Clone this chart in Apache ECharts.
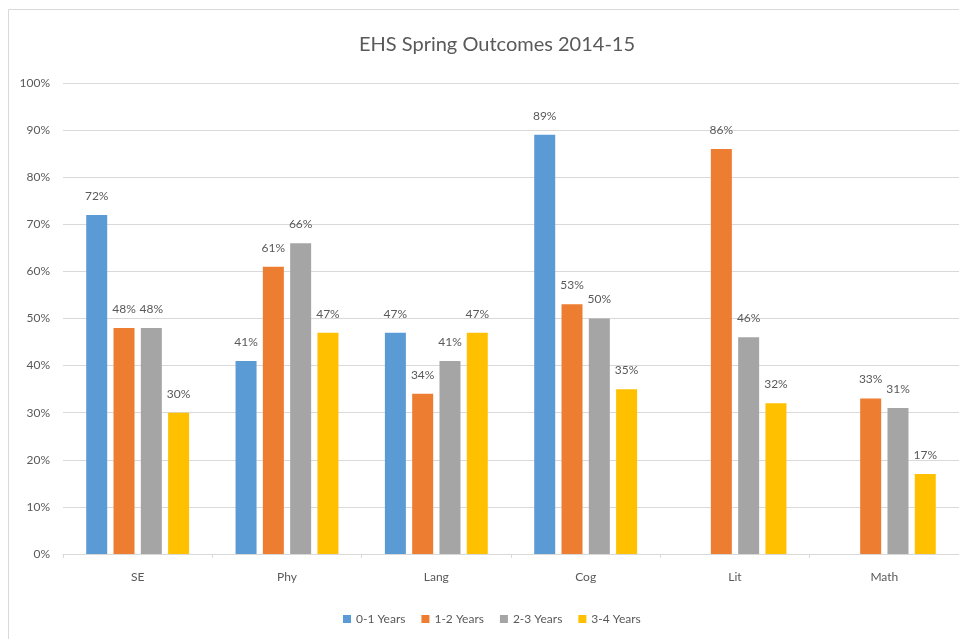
<!DOCTYPE html>
<html>
<head>
<meta charset="utf-8">
<script src="https://cdn.jsdelivr.net/npm/echarts@6/dist/echarts.min.js"></script>
<style>
  html, body { margin: 0; padding: 0; background: #fff; }
  #chart { width: 959px; height: 639px; }
</style>
</head>
<body>
<div id="chart"></div>
<script>
// 数据
var categories = ['SE', 'Phy', 'Lang', 'Cog', 'Lit', 'Math'];
var seriesNames = ['0-1 Years', '1-2 Years', '2-3 Years', '3-4 Years'];
var years01 = [72, 41, 47, 89, null, null];
var years12 = [48, 61, 34, 53, 86, 33];
var years23 = [48, 66, 41, 50, 46, 31];
var years34 = [30, 47, 47, 35, 32, 17];
var yTicks = [0, 10, 20, 30, 40, 50, 60, 70, 80, 90, 100];

var colors = ['#5b9bd5', '#ed7d31', '#a5a5a5', '#ffc000'];
var textColor = '#595959';
var fontFamily = 'Lato, "Liberation Sans", sans-serif';

var myChart = echarts.init(document.getElementById('chart'));

function makeBar(name, data) {
    return {
        name: name,
        type: 'bar',
        data: data,
        barWidth: 21,
        barGap: '30%',
        label: {
            show: true,
            position: 'top',
            distance: 13,
            color: textColor,
            fontSize: 12,
            fontFamily: fontFamily,
            formatter: function (p) { return Math.round(p.value) + '%'; }
        }
    };
}

var option = {
    animation: false,
    backgroundColor: '#fff',
    color: colors,
    textStyle: { fontFamily: fontFamily },
    title: {
        text: 'EHS Spring Outcomes 2014-15',
        left: 354,
        top: 30,
        textStyle: {
            color: textColor,
            fontSize: 20,
            fontWeight: 'normal',
            fontFamily: fontFamily
        }
    },
    graphic: [{
        type: 'rect',
        silent: true,
        shape: { x: 8.5, y: 9.5, width: 1000, height: 1000 },
        style: { fill: 'none', stroke: '#d9d9d9', lineWidth: 1 }
    }],
    legend: {
        data: seriesNames,
        left: 338,
        top: 608,
        itemWidth: 8,
        itemHeight: 8,
        itemGap: 16,
        icon: 'rect',
        textStyle: { color: textColor, fontSize: 12, fontFamily: fontFamily }
    },
    grid: {
        left: 63,
        top: 83,
        width: 900,
        height: 471
    },
    xAxis: {
        type: 'category',
        data: categories,
        axisLine: { lineStyle: { color: '#d9d9d9' } },
        axisTick: { show: true, length: 4, lineStyle: { color: '#d9d9d9' } },
        axisLabel: { color: textColor, fontSize: 12, margin: 17, fontFamily: fontFamily }
    },
    yAxis: {
        type: 'value',
        min: yTicks[0],
        max: yTicks[yTicks.length - 1],
        interval: 10,
        axisLine: { show: false },
        axisTick: { show: false },
        splitLine: { lineStyle: { color: '#d9d9d9' } },
        axisLabel: {
            color: textColor,
            fontSize: 12,
            margin: 13,
            fontFamily: fontFamily,
            formatter: '{value}%'
        }
    },
    series: [
        makeBar(seriesNames[0], years01),
        makeBar(seriesNames[1], years12),
        makeBar(seriesNames[2], years23),
        makeBar(seriesNames[3], years34)
    ]
};

myChart.setOption(option);
</script>
</body>
</html>
